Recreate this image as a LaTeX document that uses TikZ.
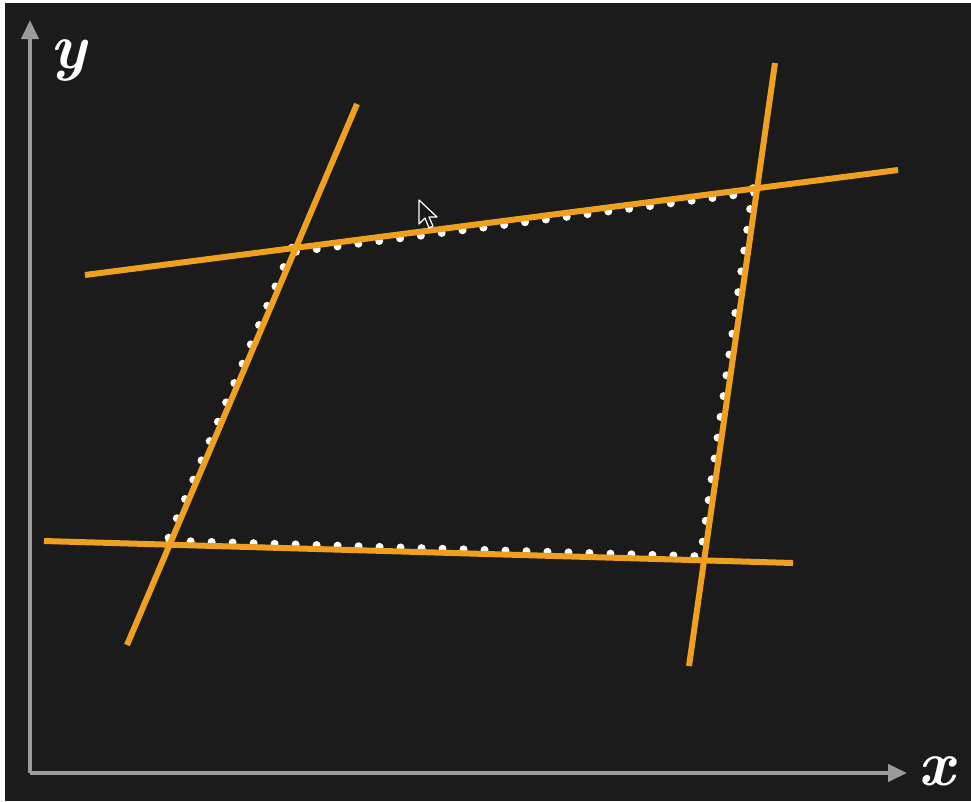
\documentclass[tikz,border=0pt]{standalone}
\usepackage{amsmath,amssymb}
\usepackage{tikz}
\usetikzlibrary{arrows.meta}
\usepackage{xcolor}

\definecolor{bgdark}{RGB}{27,27,27}
\definecolor{axisgray}{RGB}{155,155,155}
\definecolor{lineorange}{RGB}{240,160,32}

\begin{document}
\begin{tikzpicture}[x=1pt, y=-1pt,
    axis/.style={axisgray, line width=4pt, -{Triangle[width=17pt,length=19pt]}},
    fitline/.style={lineorange, line width=6pt},
    dotrow/.style={white, line width=8pt, line cap=round, dash pattern=on 0pt off 21pt},
    axlabel/.style={white, inner sep=0pt, font=\fontsize{64}{64}\selectfont\bfseries\itshape}]
    \useasboundingbox (0,0) rectangle (971,801);
    \fill[bgdark] (5,3) rectangle (971,801);

    % axes
    \coordinate (o) at (30,773);
    \coordinate (ytip) at (30,20);
    \coordinate (xtip) at (907,773);
    \draw[axis] (o) -- (ytip);
    \draw[axis] (o) -- (xtip);
    \node[axlabel] (ylab) at (68,60) {y};
    \node[axlabel] (xlab) at (936,771) {x};

    % end points of the four lines
    \coordinate (l1) at (127,645);
    \coordinate (l2) at (357,104);
    \coordinate (t1) at (85,275);
    \coordinate (t2) at (898,170);
    \coordinate (r1) at (689,666);
    \coordinate (r2) at (775,63);
    \coordinate (b1) at (44,541);
    \coordinate (b2) at (793,563);

    % corners
    \coordinate (tl) at (intersection of l1--l2 and t1--t2);
    \coordinate (tr) at (intersection of r1--r2 and t1--t2);
    \coordinate (bl) at (intersection of l1--l2 and b1--b2);
    \coordinate (br) at (intersection of r1--r2 and b1--b2);

    % white dots round the quadrilateral
    \draw[dotrow] ([shift={(0,4)}]tl) -- ([shift={(0,4)}]tr);
    \draw[dotrow] ([shift={(-4,0)}]tr) -- ([shift={(-4,0)}]br);
    \draw[dotrow] ([shift={(0,-4)}]bl) -- ([shift={(0,-4)}]br);
    \draw[dotrow] ([shift={(-4,0)}]tl) -- ([shift={(-4,0)}]bl);

    % the four lines
    \draw[fitline] (l1) -- (l2);
    \draw[fitline] (t1) -- (t2);
    \draw[fitline] (r1) -- (r2);
    \draw[fitline] (b1) -- (b2);

    % mouse pointer
    \draw[white, line width=1.2pt, fill=bgdark, line join=round]
        (419,200) -- (419,224) -- (425,218) -- (429,228) -- (433,226)
        -- (429,217) -- (437,217) -- cycle;
\end{tikzpicture}
\end{document}
